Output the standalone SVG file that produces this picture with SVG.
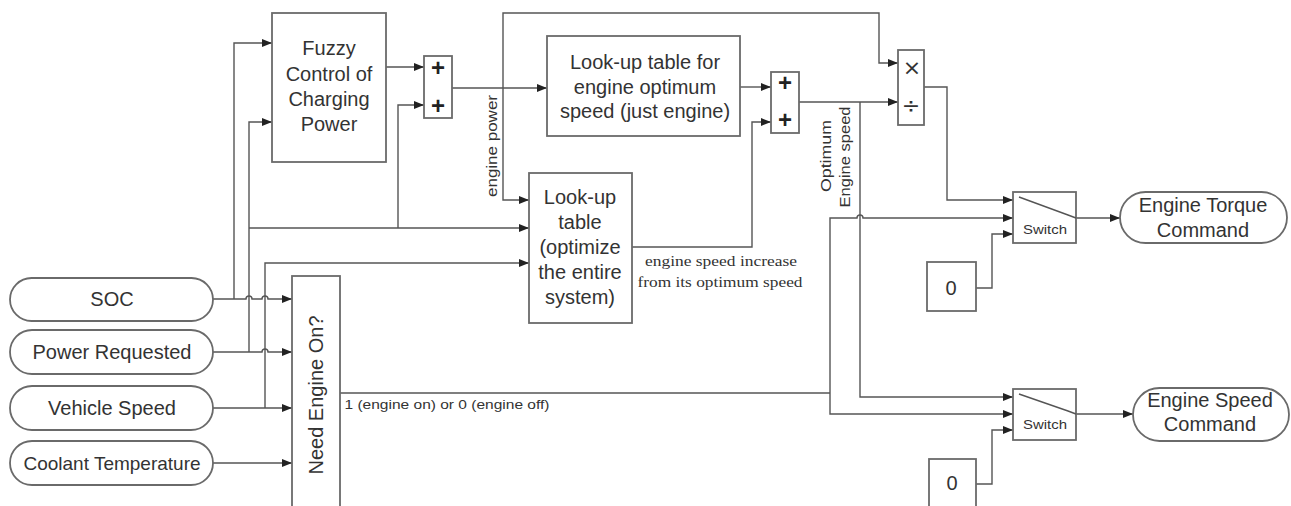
<svg xmlns="http://www.w3.org/2000/svg" width="1291" height="506" viewBox="0 0 1291 506">
<defs>
<marker id="arr" viewBox="0 0 10 8" refX="10" refY="4" markerWidth="11" markerHeight="8" markerUnits="userSpaceOnUse" orient="auto"><path d="M0,0L10,4L0,8z" fill="#222"/></marker>
</defs>
<style>
.box{fill:#fff;stroke:#6a6a6a;stroke-width:1.8}
.w{fill:none;stroke:#555;stroke-width:1.4}
.a{marker-end:url(#arr)}
.t{font-family:"Liberation Sans",Arial,sans-serif;font-size:20px;fill:#333;text-anchor:middle}
.s{font-family:"Liberation Sans",Arial,sans-serif;font-size:15px;fill:#333;text-anchor:middle}
.r{font-family:"Liberation Serif","Times New Roman",serif;font-size:14px;fill:#333;text-anchor:middle}
.op{font-family:"Liberation Sans",Arial,sans-serif;font-size:24px;font-weight:bold;fill:#222;text-anchor:middle}
.md{font-family:"DejaVu Sans",sans-serif;font-size:22px;fill:#333;text-anchor:middle}
</style>
<rect width="1291" height="506" fill="#fff"/>

<g id="connectors">
<path class="w a" d="M213,299 H246 a3,3 0 0 1 6,0 H262 a3,3 0 0 1 6,0 H292"/>
<path class="w a" d="M234,299 V43 H272"/>
<path class="w a" d="M213,352 H262 a3,3 0 0 1 6,0 H292"/>
<path class="w a" d="M249,352 V122 H272"/>
<path class="w a" d="M249,228 H529"/>
<path class="w a" d="M213,408 H292"/>
<path class="w a" d="M265,408 V263 H529"/>
<path class="w a" d="M213,463 H292"/>
<path class="w a" d="M386,67 H424"/>
<path class="w a" d="M398,228 V105 H424"/>
<path class="w a" d="M452,88 H547"/>
<path class="w a" d="M503,88 V200 H529"/>
<path class="w a" d="M503,88 V13 H879 V63 H898"/>
<path class="w a" d="M740,87 H771"/>
<path class="w a" d="M632,247 H752 V122 H771"/>
<path class="w a" d="M799,102 H898"/>
<path class="w a" d="M860,102 V397 H1013"/>
<path class="w a" d="M924,87 H947 V200 H1013"/>
<path class="w" d="M340,393 H830"/>
<path class="w a" d="M830,393 V414 H1013"/>
<path class="w a" d="M830,393 V218 H857 a3,3 0 0 1 6,0 H1013"/>
<path class="w a" d="M976,288 H992 V234 H1013"/>
<path class="w a" d="M976,484 H992 V430 H1013"/>
<path class="w a" d="M1076,218 H1120"/>
<path class="w a" d="M1076,414 H1133"/>
</g>

<g id="soc"><rect class="box" x="10" y="278" width="203" height="43" rx="21.5"/><text class="t" x="112" y="306">SOC</text></g>
<g id="power-requested"><rect class="box" x="10" y="330" width="203" height="44" rx="22"/><text class="t" x="112" y="359">Power Requested</text></g>
<g id="vehicle-speed"><rect class="box" x="10" y="386" width="203" height="44" rx="22"/><text class="t" x="112" y="415">Vehicle Speed</text></g>
<g id="coolant-temperature"><rect class="box" x="10" y="441" width="203" height="44" rx="22"/><text class="t" x="112" y="470" style="font-size:19px">Coolant Temperature</text></g>

<g id="fuzzy"><rect class="box" x="272" y="13" width="114" height="149"/>
<text class="t" x="329" y="55">Fuzzy</text><text class="t" x="329" y="81">Control of</text><text class="t" x="329" y="106">Charging</text><text class="t" x="329" y="131">Power</text></g>

<g id="sum1"><rect class="box" x="424" y="56" width="28" height="62"/><text class="op" x="438" y="76">+</text><text class="op" x="438" y="114">+</text></g>

<g id="lut-optimum"><rect class="box" x="547" y="36" width="193" height="100"/>
<text class="t" x="645" y="69">Look-up table for</text><text class="t" x="645" y="94">engine optimum</text><text class="t" x="645" y="118">speed (just engine)</text></g>

<g id="sum2"><rect class="box" x="771" y="72" width="28" height="61"/><text class="op" x="785" y="91">+</text><text class="op" x="785" y="128">+</text></g>

<g id="muldiv"><rect class="box" x="898" y="50" width="26" height="75"/><text class="md" x="912" y="75">×</text><text class="md" x="911" y="113">÷</text></g>

<g id="lut-system"><rect class="box" x="529" y="173" width="103" height="150"/>
<text class="t" x="580" y="204">Look-up</text><text class="t" x="580" y="229">table</text><text class="t" x="580" y="254">(optimize</text><text class="t" x="580" y="279">the entire</text><text class="t" x="580" y="304">system)</text></g>

<g id="need-engine"><rect class="box" x="292" y="276" width="48" height="240"/><text class="t" transform="translate(323,395) rotate(-90)">Need Engine On?</text></g>

<g id="switch1"><rect class="box" x="1013" y="192" width="63" height="51"/><path class="w" d="M1019,197 L1068,215 L1076,218"/><text class="s" x="1045" y="234" style="font-size:13px" textLength="44" lengthAdjust="spacingAndGlyphs">Switch</text></g>
<g id="switch2"><rect class="box" x="1013" y="389" width="63" height="51"/><path class="w" d="M1019,394 L1068,411 L1076,414"/><text class="s" x="1045" y="429" style="font-size:13px" textLength="44" lengthAdjust="spacingAndGlyphs">Switch</text></g>

<g id="zero1"><rect class="box" x="927" y="262" width="49" height="49"/><text class="t" x="951" y="295">0</text></g>
<g id="zero2"><rect class="box" x="929" y="459" width="47" height="60"/><text class="t" x="952" y="490">0</text></g>

<g id="torque-command"><rect class="box" x="1120" y="192" width="167" height="51" rx="25.5"/><text class="t" x="1203" y="212">Engine Torque</text><text class="t" x="1203" y="237">Command</text></g>
<g id="speed-command"><rect class="box" x="1133" y="388" width="156" height="53" rx="26.5"/><text class="t" x="1210" y="407">Engine Speed</text><text class="t" x="1210" y="431">Command</text></g>

<g id="labels">
<text class="s" transform="translate(497,146) rotate(-90)" textLength="102" lengthAdjust="spacingAndGlyphs">engine power</text>
<text class="s" transform="translate(831,156) rotate(-90)" textLength="72" lengthAdjust="spacingAndGlyphs">Optimum</text>
<text class="s" transform="translate(850,157) rotate(-90)" textLength="101" lengthAdjust="spacingAndGlyphs">Engine speed</text>
<text class="s" x="447" y="409" style="font-size:13px" textLength="205" lengthAdjust="spacingAndGlyphs">1 (engine on) or 0 (engine off)</text>
<text class="r" x="721" y="266" textLength="152" lengthAdjust="spacingAndGlyphs">engine speed increase</text>
<text class="r" x="720" y="287" textLength="165" lengthAdjust="spacingAndGlyphs">from its optimum speed</text>
</g>
</svg>
